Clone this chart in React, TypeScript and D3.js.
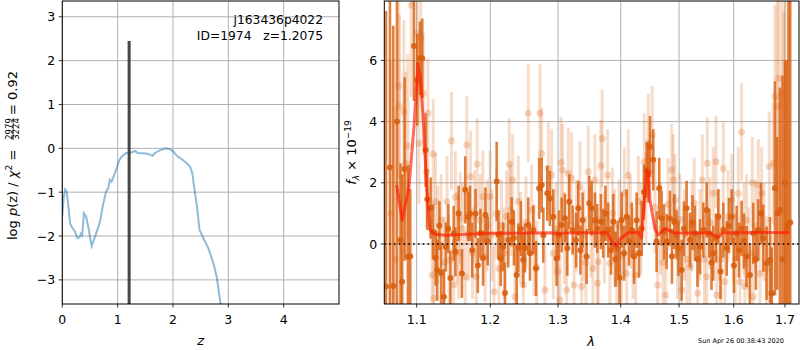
import React from 'react';
import * as d3 from 'd3';

const FONT = '"DejaVu Sans", sans-serif';

// left panel: log p(z)
const pzCurve: [number, number][] = [
  [0, -1.56], [0.02, -1.18], [0.05, -0.94], [0.08, -0.99], [0.11, -1.33], [0.14, -1.71],
  [0.17, -1.79], [0.23, -1.9], [0.27, -2.05], [0.31, -2.03], [0.34, -1.94], [0.36, -1.98],
  [0.39, -1.48], [0.43, -1.56], [0.47, -1.79], [0.5, -2.02], [0.53, -2.23], [0.59, -2.02],
  [0.64, -1.83], [0.68, -1.68], [0.74, -1.26], [0.79, -0.99], [0.83, -0.91], [0.86, -0.72],
  [0.89, -0.76], [0.95, -0.57], [0.98, -0.46], [1.03, -0.27], [1.07, -0.19], [1.16, -0.1],
  [1.22, -0.11], [1.31, -0.06], [1.37, -0.11], [1.47, -0.11], [1.56, -0.13], [1.63, -0.17],
  [1.68, -0.1], [1.77, -0.04], [1.87, 0.0], [1.95, -0.02], [2.01, -0.08], [2.07, -0.17],
  [2.16, -0.25], [2.25, -0.34], [2.31, -0.42], [2.35, -0.57], [2.39, -0.95], [2.43, -1.3],
  [2.48, -1.86], [2.55, -2.05], [2.64, -2.28], [2.73, -2.62], [2.79, -2.93], [2.85, -3.46],
  [2.87, -3.61],
];
const zBest = 1.2075;
const zBarTop = 2.45;
const pzXTicks = [0, 1, 2, 3, 4];
const pzYTicks = [-3, -2, -1, 0, 1, 2, 3];
const titleLines = ['j163436p4022', 'ID=1974   z=1.2075'];

// right panel: spectrum [lambda, flux, err]
const fainterPts: [number, number, number][] = [
  [1.0667, 1.0, 5], [1.0725, -0.5, 5], [1.077, 5.16, 3], [1.0777, 4.5, 3], [1.0834, 4.32, 3],
  [1.0857, 2.64, 3], [1.0887, 3.2, 3], [1.093, 7.8, 3], [1.1008, 6.88, 2], [1.103, 3.29, 2],
  [1.1052, 6.72, 2], [1.1086, 4.92, 2], [1.113, 2.36, 1.8], [1.1147, 4.27, 1.8], [1.1203, -1.01, 1.8],
  [1.1217, 2.94, 1.8], [1.1226, -1.77, 1.6], [1.1248, 1.38, 1.6], [1.1278, 0.3, 1.6], [1.1322, 0.78, 1.5],
  [1.1364, -0.6, 1.5], [1.1401, 1.38, 1.5], [1.1428, -0.52, 1.5], [1.1463, 3.37, 1.6], [1.1492, -1.34, 1.5],
  [1.1515, 1.53, 1.5], [1.1538, 0.2, 1.5], [1.1559, -0.3, 1.5], [1.1582, 0.84, 1.5], [1.1612, 0.5, 1.5],
  [1.165, -1.07, 1.5], [1.1671, 3.24, 1.6], [1.1693, 0.3, 1.5], [1.1723, 2.2, 1.5], [1.1752, -0.3, 1.5],
  [1.1779, 0.9, 1.5], [1.1803, -1.07, 1.5], [1.1816, 2.61, 1.5], [1.1857, 0.78, 1.5], [1.1894, 1.55, 1.5],
  [1.1928, -0.4, 1.5], [1.1955, 0.6, 1.5], [1.1996, 1.55, 1.5], [1.2024, 0.3, 1.5], [1.2053, -1.56, 1.5],
  [1.2091, 1.0, 1.5], [1.2124, -0.8, 1.5], [1.2159, 0.6, 1.5], [1.2196, -0.3, 1.5], [1.2232, 0.9, 1.5],
  [1.2272, 2.61, 1.5], [1.2292, 1.11, 1.5], [1.2321, 2.09, 1.5], [1.2355, -1.72, 1.5], [1.2404, 1.39, 1.5],
  [1.2436, 0.2, 1.5], [1.2477, -1.34, 1.5], [1.2517, 0.7, 1.5], [1.2551, 4.27, 1.6], [1.2601, 1.11, 1.5],
  [1.2636, -0.2, 1.5], [1.2676, -0.74, 1.5], [1.2725, 4.27, 1.6], [1.2751, 2.96, 1.5], [1.2801, -1.5, 1.5],
  [1.2851, 2.47, 1.5], [1.2902, 2.25, 1.5], [1.2927, -0.3, 1.5], [1.2968, 0.5, 1.5], [1.2999, -0.9, 1.5],
  [1.303, -1.83, 1.5], [1.3045, 2.66, 1.5], [1.3071, 2.42, 1.5], [1.3099, 0.2, 1.5], [1.3133, -1.5, 1.5],
  [1.3158, 2.31, 1.5], [1.3211, 2.15, 1.5], [1.3248, -1.34, 1.5], [1.3287, 0.6, 1.5], [1.3341, 1.87, 1.5],
  [1.3368, -1.39, 1.5], [1.3404, 0.3, 1.5], [1.3436, -0.6, 1.5], [1.3473, 2.36, 1.5], [1.3516, 0.4, 1.5],
  [1.3548, -0.8, 1.5], [1.358, 2.09, 1.5], [1.362, -1.28, 1.5], [1.3633, -0.58, 1.5], [1.3676, 2.56, 1.5],
  [1.3697, 3.45, 1.6], [1.3733, 0.2, 1.5], [1.3785, 2.25, 1.5], [1.3823, -0.63, 1.5], [1.3864, 1.0, 1.5],
  [1.3897, 0.3, 1.5], [1.3934, -1.28, 1.5], [1.3972, 0.6, 1.5], [1.4013, -0.4, 1.5], [1.406, 1.66, 1.5],
  [1.4099, -0.96, 1.5], [1.4126, 2.25, 1.5], [1.4162, 0.7, 1.5], [1.4205, -0.3, 1.5], [1.425, -1.01, 1.5],
  [1.4294, 1.38, 1.5], [1.434, 0.5, 1.5], [1.4395, 2.69, 1.6], [1.4424, 1.5, 1.5], [1.4463, 3.31, 1.6],
  [1.4531, 3.56, 1.6], [1.4578, 1.2, 1.5], [1.4624, -1.34, 1.5], [1.4673, 0.5, 1.5], [1.4717, -0.6, 1.5],
  [1.4764, -1.67, 1.5], [1.4805, 1.3, 1.5], [1.4869, 2.42, 1.5], [1.4898, 2.09, 1.5], [1.4927, 1.44, 1.5],
  [1.4972, -0.3, 1.5], [1.5015, 0.8, 1.5], [1.5045, -1.5, 1.5], [1.5095, 0.3, 1.5], [1.514, -0.5, 1.5],
  [1.5194, -0.74, 1.5], [1.523, 0.6, 1.5], [1.5271, 1.33, 1.5], [1.5334, -1.61, 1.5], [1.5375, 0.3, 1.5],
  [1.5417, 2.09, 1.5], [1.5457, -0.5, 1.5], [1.5497, -1.07, 1.5], [1.5508, 2.64, 1.5], [1.5557, 0.7, 1.5],
  [1.5619, 1.66, 1.5], [1.5669, 2.69, 1.5], [1.5682, -1.67, 1.5], [1.5724, 0.3, 1.5], [1.5761, -0.5, 1.5],
  [1.5805, 2.47, 1.5], [1.5836, -1.23, 1.5], [1.5892, 0.9, 1.5], [1.5962, 1.44, 1.5], [1.5992, 0.24, 1.5],
  [1.6033, -0.5, 1.5], [1.6087, 1.66, 1.5], [1.6118, -1.23, 1.5], [1.615, 3.65, 1.6], [1.6194, 0.5, 1.5],
  [1.6213, -1.39, 1.5], [1.6245, 0.78, 1.5], [1.6291, -0.3, 1.5], [1.6355, 2.0, 1.5], [1.6374, -1.72, 1.5],
  [1.6417, 0.6, 1.5], [1.6471, 1.93, 1.5], [1.6504, -0.96, 1.5], [1.6537, 1.66, 1.5], [1.6582, 0.4, 1.6],
  [1.6631, -0.8, 1.7], [1.6686, 2.53, 1.8], [1.6734, -1.61, 1.9], [1.6766, 2.64, 2], [1.68, 4.81, 3],
  [1.6846, 4.49, 3.5], [1.6874, 5.42, 4], [1.6934, 4.92, 4], [1.6971, 2.6, 5], [1.7, 4.49, 5],
];

const brighterPts: [number, number, number][] = [
  [1.0608, -1.39, 9], [1.0658, 2.5, 8], [1.07, -1.37, 8.5], [1.0747, 4.0, 7], [1.0792, 0.13, 2.5],
  [1.0813, -1.23, 3.5], [1.0844, 2.45, 3], [1.0887, -0.42, 3], [1.0917, -0.4, 2.2], [1.0965, 6.47, 1.8],
  [1.1008, 5.36, 1.5], [1.1043, 6.07, 1.2], [1.1073, 6.07, 1.3], [1.1117, 3.07, 1.2], [1.1139, 1.46, 1.0],
  [1.1183, 1.17, 1.0], [1.1214, 0.4, 0.9], [1.125, -0.46, 0.9], [1.127, -0.85, 1.0], [1.13, 0.6, 0.8],
  [1.1322, -0.95, 1.0], [1.1359, -1.72, 0.9], [1.1385, -0.1, 0.8], [1.1419, 0.5, 0.8], [1.1448, -1.11, 0.9],
  [1.1492, 0.35, 0.9], [1.1515, -0.25, 0.8], [1.1559, 1.0, 0.9], [1.1604, -0.96, 0.8], [1.165, 1.77, 1.1],
  [1.1688, 0.89, 0.8], [1.1715, 1.0, 0.9], [1.1746, -0.2, 0.9], [1.1793, 1.0, 0.8], [1.1824, -0.7, 0.9],
  [1.1861, 0.35, 0.8], [1.1898, -0.46, 0.9], [1.1931, 0.95, 0.9], [1.1963, 0.1, 0.8], [1.2091, 2.04, 1.3],
  [1.2117, 0.3, 0.8], [1.2148, -0.47, 0.9], [1.2185, -0.09, 0.8], [1.221, -1.6, 1.0], [1.2257, 0.13, 0.9],
  [1.2307, 0.73, 0.8], [1.234, 0.2, 0.9], [1.238, -1.01, 1.0], [1.2404, -0.13, 0.8], [1.2443, 0.5, 0.9],
  [1.2477, -0.52, 0.9], [1.2502, -0.13, 0.8], [1.2551, 0.62, 0.9], [1.2576, -0.3, 0.9], [1.2626, 0.46, 0.8],
  [1.2666, -0.8, 0.9], [1.2714, 1.82, 1.0], [1.2751, 1.93, 0.9], [1.2776, 0.29, 0.9], [1.2836, 1.66, 0.9],
  [1.2876, 1.49, 0.9], [1.2927, 0.89, 0.9], [1.2978, -0.47, 0.9], [1.3014, 0.3, 0.8], [1.3056, 0.62, 0.9],
  [1.3107, 0.84, 0.8], [1.3143, -0.14, 0.9], [1.3174, 1.38, 0.9], [1.3227, 0.46, 0.8], [1.3279, 0.13, 0.9],
  [1.3315, 1.17, 0.9], [1.3349, -0.2, 0.8], [1.3384, 0.78, 0.9], [1.3447, -0.41, 0.9], [1.3489, 1.33, 0.9],
  [1.3527, 1.17, 0.9], [1.358, 0.78, 0.9], [1.3617, 0.51, 0.8], [1.3676, 0.73, 0.9], [1.3714, 0.35, 0.8],
  [1.375, 1.0, 0.9], [1.3795, 0.46, 0.9], [1.384, -0.2, 0.8], [1.3878, 0.73, 0.9], [1.3914, -0.5, 0.9],
  [1.395, -0.14, 0.9], [1.398, -1.1, 0.9], [1.4016, 0.78, 0.9], [1.4055, -0.3, 0.9], [1.4099, 0.89, 0.9],
  [1.4138, 0.1, 0.8], [1.4183, 0.46, 0.9], [1.4222, -0.4, 0.9], [1.4267, 0.78, 0.9], [1.4306, -0.3, 0.8],
  [1.4351, 0.51, 0.9], [1.439, 1.7, 0.9], [1.4436, 2.42, 0.9], [1.4467, 2.35, 1.0], [1.4492, 3.18, 1.0],
  [1.4549, 2.75, 1.0], [1.4607, 0.08, 1.0], [1.4652, 1.82, 1.0], [1.4694, 0.84, 0.9], [1.4734, 0.4, 0.9],
  [1.4781, 0.08, 0.9], [1.4839, 0.84, 0.9], [1.4874, -0.4, 0.9], [1.4915, 0.73, 0.9], [1.4954, 0.3, 0.8],
  [1.4987, -0.14, 0.9], [1.5045, -0.85, 1.0], [1.5086, 0.5, 0.9], [1.5134, 1.17, 0.9], [1.5194, 0.13, 0.9],
  [1.5239, 0.7, 0.9], [1.5285, 0.35, 0.9], [1.533, -0.5, 0.9], [1.5375, -0.09, 0.9], [1.5436, 0.46, 0.9],
  [1.5497, 1.11, 0.9], [1.5545, 0.35, 0.8], [1.5586, -0.6, 0.9], [1.5619, -0.3, 0.9], [1.5669, 0.2, 0.8],
  [1.5711, 0.89, 0.9], [1.5752, -0.9, 0.9], [1.5805, 0.46, 0.9], [1.5868, -0.14, 0.9], [1.5911, 0.6, 0.9],
  [1.5962, 0.89, 0.9], [1.6005, -0.7, 0.9], [1.6056, 0.35, 0.9], [1.6099, -0.2, 0.9], [1.615, 0.51, 0.9],
  [1.6194, 0.1, 0.9], [1.6245, -0.41, 1.0], [1.631, -1.01, 1.0], [1.6374, 0.35, 1.0], [1.6426, -0.5, 1.0],
  [1.6471, 0.46, 1.0], [1.6524, 1.0, 1.0], [1.6569, 0.19, 1.1], [1.6635, -0.63, 1.2], [1.67, -0.52, 1.4],
  [1.6734, -1.61, 1.5], [1.68, 1.82, 3.5], [1.6846, 1.0, 2.5], [1.6899, 1.11, 4], [1.695, -0.5, 6],
  [1.7, 2.0, 4], [1.7034, 0.51, 5.5], [1.707, 0.65, 9], [1.7106, 0.7, 9],
];

const modelLine: [number, number][] = [
  [1.0743, 1.93], [1.0813, 0.78], [1.0901, 1.87], [1.0965, 3.83], [1.1017, 5.9], [1.1052, 5.36],
  [1.1095, 3.62], [1.113, 1.87], [1.1174, 0.46], [1.1227, 0.33], [1.14, 0.28], [1.158, 0.31],
  [1.2, 0.35], [1.25, 0.36], [1.29, 0.37], [1.3, 0.33], [1.31, 0.36], [1.35, 0.37], [1.3775, 0.37],
  [1.3885, -0.03], [1.3945, -0.05], [1.3987, 0.16], [1.4126, 0.37], [1.43, 0.38], [1.435, 0.19],
  [1.4436, 2.42], [1.447, 2.3], [1.4492, 1.44], [1.4578, 0.49], [1.4634, 0.29], [1.4751, 0.51],
  [1.4898, 0.37], [1.5557, 0.36], [1.5711, 0.22], [1.579, 0.36], [1.65, 0.38], [1.7088, 0.37],
];
const specXTicks = [1.1, 1.2, 1.3, 1.4, 1.5, 1.6, 1.7];
const specYTicks = [0, 2, 4, 6];
const stamp = 'Sun Apr 26 00:38:43 2020';

const ORANGE = '#d95f0e';
const fmt = (v: number) => (v < 0 ? '\u2212' + Math.abs(v) : String(v));

export default function App() {
  // left panel scales
  const lx = d3.scaleLinear().domain([0, 5]).range([62.3, 339]);
  const ly = d3.scaleLinear().domain([-3.55, 3.36]).range([304, 1]);
  // right panel scales (log wavelength axis)
  const rx = d3.scaleLog().domain([1.0587, 1.7284]).range([384.3, 799]);
  const ry = d3.scaleLinear().domain([-1.96, 7.94]).range([304, 1]);

  const pzPath = d3.line<[number, number]>().x(d => lx(d[0])).y(d => ly(d[1]))(pzCurve) || '';
  const modelPath = d3.line<[number, number]>().x(d => rx(d[0])).y(d => ry(d[1]))(modelLine) || '';

  const [l0, l1] = lx.range();
  const [lb, lt] = ly.range();
  const [r0, r1] = rx.range();
  const [rb, rt] = ry.range();

  return (
    <svg width={800} height={350} style={{ position: 'absolute', left: 0, top: 0, background: '#fff' }}
      fontFamily={FONT}>
      <defs>
        <clipPath id="clipL"><rect x={l0} y={lt} width={l1 - l0} height={lb - lt} /></clipPath>
        <clipPath id="clipR"><rect x={r0} y={rt} width={r1 - r0} height={rb - rt} /></clipPath>
      </defs>
      <rect width={800} height={350} fill="#fff" />

      {/* ---------- left panel ---------- */}
      <g stroke="#b0b0b0" strokeWidth={1}>
        {pzXTicks.map(t => <line key={'gx' + t} x1={lx(t)} x2={lx(t)} y1={lt} y2={lb} />)}
        {pzYTicks.map(t => <line key={'gy' + t} x1={l0} x2={l1} y1={ly(t)} y2={ly(t)} />)}
      </g>
      <g clipPath="url(#clipL)">
        <path d={pzPath} fill="none" stroke="#1f77b4" strokeOpacity={0.5} strokeWidth={2} />
        <line x1={lx(zBest)} x2={lx(zBest)} y1={lb} y2={ly(zBarTop)} stroke="#333" strokeOpacity={0.9} strokeWidth={3} />
      </g>
      <rect x={l0} y={lt} width={l1 - l0} height={lb - lt} fill="none" stroke="#000" strokeWidth={1} />
      {pzXTicks.map(t => (
        <g key={'tx' + t}>
          <line x1={lx(t)} x2={lx(t)} y1={lb} y2={lb + 3.5} stroke="#000" strokeWidth={0.8} />
          <text x={lx(t)} y={324} textAnchor="middle" fontSize={12.5}>{fmt(t)}</text>
        </g>
      ))}
      {pzYTicks.map(t => (
        <g key={'ty' + t}>
          <line x1={l0 - 3.5} x2={l0} y1={ly(t)} y2={ly(t)} stroke="#000" strokeWidth={0.8} />
          <text x={l0 - 7} y={ly(t)} dy="0.36em" textAnchor="end" fontSize={12.5}>{fmt(t)}</text>
        </g>
      ))}
      <text x={323} y={24} textAnchor="end" fontSize={12.3}>{titleLines[0]}</text>
      <text x={323} y={40} textAnchor="end" fontSize={12.3} style={{ whiteSpace: 'pre' }}>{titleLines[1]}</text>
      <text x={(l0 + l1) / 2} y={345} textAnchor="middle" fontSize={13} fontStyle="italic">z</text>
      <g transform="translate(17,0) rotate(-90)" fontSize={13}>
        <text x={-240} y={0}>
          log <tspan fontStyle="italic">p</tspan>(z) / <tspan fontStyle="italic">χ</tspan>
          <tspan dy={-5} fontSize={9}>2</tspan><tspan dy={5}> =</tspan>
        </text>
        <text x={-129} y={-5.5} textAnchor="middle" fontSize={8.5}>2979</text>
        <line x1={-140} x2={-118} y1={-3.8} y2={-3.8} stroke="#000" strokeWidth={0.7} />
        <text x={-129} y={1.5} textAnchor="middle" fontSize={8.5}>3224</text>
        <text x={-115} y={0} style={{ whiteSpace: 'pre' }}>= 0.92</text>
      </g>

      {/* ---------- right panel ---------- */}
      <g stroke="#b0b0b0" strokeWidth={1}>
        {specXTicks.map(t => <line key={'sgx' + t} x1={rx(t)} x2={rx(t)} y1={rt} y2={rb} />)}
        {specYTicks.map(t => <line key={'sgy' + t} x1={r0} x2={r1} y1={ry(t)} y2={ry(t)} />)}
      </g>
      <g clipPath="url(#clipR)">
        <g stroke={ORANGE} strokeOpacity={0.22} strokeWidth={3}>
          {fainterPts.map((p, i) => (
            <line key={'fe' + i} x1={rx(p[0])} x2={rx(p[0])} y1={ry(p[1] - p[2])} y2={ry(p[1] + p[2])} />
          ))}
        </g>
        <g fill={ORANGE} fillOpacity={0.25}>
          {fainterPts.map((p, i) => <circle key={'fc' + i} cx={rx(p[0])} cy={ry(p[1])} r={3.5} />)}
        </g>
        <g stroke={ORANGE} strokeOpacity={0.8} strokeWidth={2.6}>
          {brighterPts.map((p, i) => (
            <line key={'be' + i} x1={rx(p[0])} x2={rx(p[0])} y1={ry(p[1] - p[2])} y2={ry(p[1] + p[2])} />
          ))}
        </g>
        <g fill={ORANGE} fillOpacity={0.9}>
          {brighterPts.map((p, i) => <circle key={'bc' + i} cx={rx(p[0])} cy={ry(p[1])} r={3} />)}
        </g>
        <line x1={r0} x2={r1} y1={ry(0)} y2={ry(0)} stroke="#000" strokeWidth={1.6} strokeDasharray="1.6,3.2" />
        <path d={modelPath} fill="none" stroke="#ff1a00" strokeOpacity={0.65} strokeWidth={3} strokeLinejoin="round" />
      </g>
      <rect x={r0} y={rt} width={r1 - r0} height={rb - rt} fill="none" stroke="#000" strokeWidth={1} />
      {specXTicks.map(t => (
        <g key={'stx' + t}>
          <line x1={rx(t)} x2={rx(t)} y1={rb} y2={rb + 3.5} stroke="#000" strokeWidth={0.8} />
          <text x={rx(t)} y={324} textAnchor="middle" fontSize={12.5}>{t.toFixed(1)}</text>
        </g>
      ))}
      {specYTicks.map(t => (
        <g key={'sty' + t}>
          <line x1={r0 - 3.5} x2={r0} y1={ry(t)} y2={ry(t)} stroke="#000" strokeWidth={0.8} />
          <text x={r0 - 7} y={ry(t)} dy="0.36em" textAnchor="end" fontSize={12.5}>{fmt(t)}</text>
        </g>
      ))}
      <text x={591} y={346} textAnchor="middle" fontSize={13} fontStyle="italic">λ</text>
      <text transform={`translate(356,${(rt + rb) / 2}) rotate(-90)`} textAnchor="middle" fontSize={13}>
        <tspan fontStyle="italic">f</tspan>
        <tspan dy={3} fontSize={9} fontStyle="italic">λ</tspan>
        <tspan dy={-3}> × 10</tspan>
        <tspan dy={-5} fontSize={9}>−19</tspan>
      </text>
      <text x={741} y={343} textAnchor="middle" fontSize={6.5}>{stamp}</text>
    </svg>
  );
}
